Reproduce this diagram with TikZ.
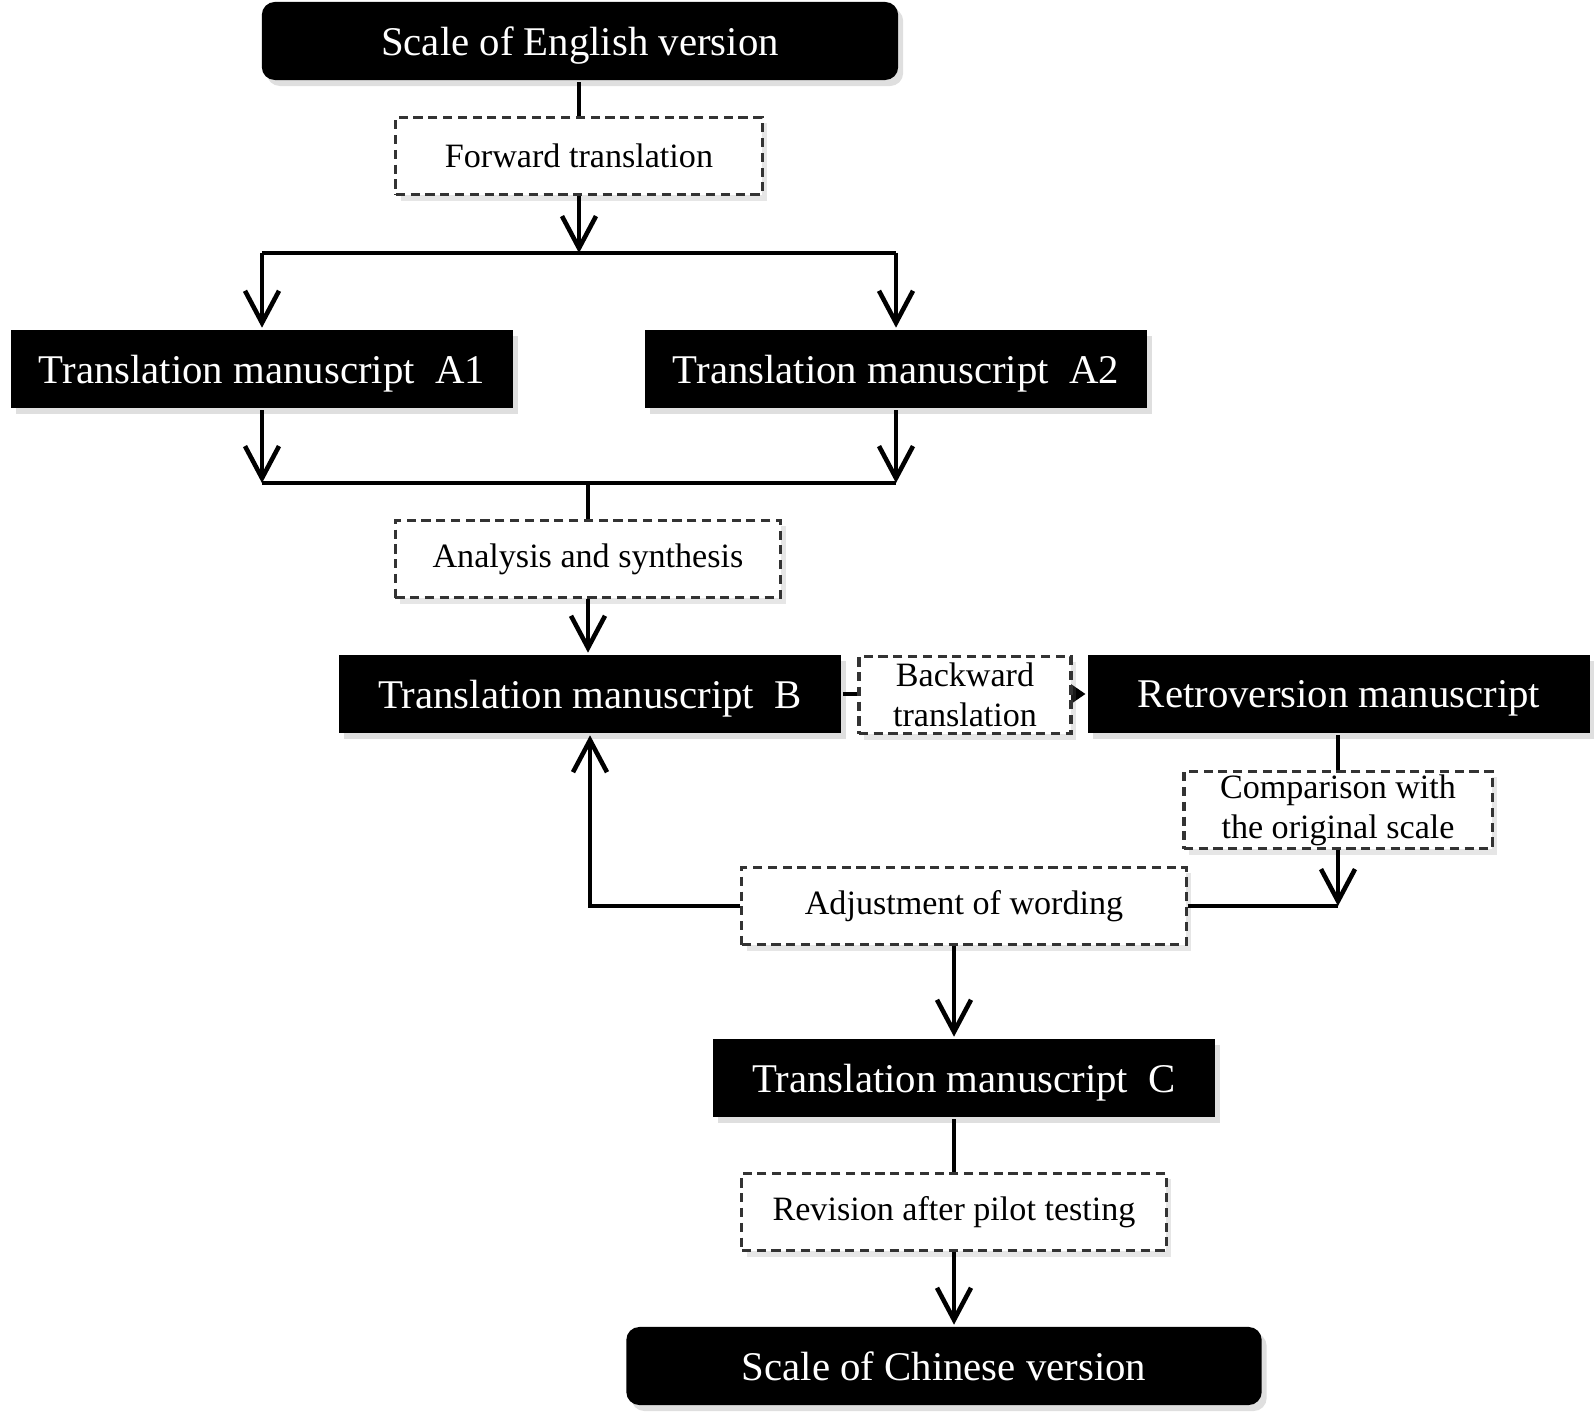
\documentclass[tikz,border=0pt]{standalone}
\usepackage{fontspec}
\setmainfont{Liberation Serif}
\usetikzlibrary{arrows.meta,shadows}

\begin{document}
\begin{tikzpicture}[
    x=0.01cm, y=-0.01cm,
    line width=1.3pt,
    >={Straight Barb[length=3.2mm,width=3.4mm]},
    stage/.style={fill=black, text=white, inner sep=0pt,
        minimum width=5.01cm, minimum height=0.78cm, text depth=0pt,
        font=\fontsize{11.6}{13}\selectfont,
        drop shadow={opacity=0.25, shadow xshift=0.5mm, shadow yshift=-0.6mm}},
    ends/.style={stage, rounded corners=1.3mm, minimum width=6.36cm},
    process/.style={draw=black!80, fill=white, line width=0.9pt,
        dash pattern=on 2.6pt off 1.6pt, inner sep=0pt,
        minimum height=0.77cm, align=center,
        font=\fontsize{9.7}{11.3}\selectfont,
        drop shadow={opacity=0.2, shadow xshift=0.5mm, shadow yshift=-0.6mm}}]

\useasboundingbox (0,0) rectangle (1594,1419);

\node[ends] (eng) at (580,41) {Scale of English version};
\node[process, minimum width=3.66cm] (fwd) at (579,156) {Forward translation};
\node[stage] (a1) at (262,369) {Translation manuscript\ \ A1};
\node[stage] (a2) at (896,369) {Translation manuscript\ \ A2};
\node[process, minimum width=3.85cm] (ana) at (588,559) {Analysis and synthesis};
\node[stage] (tb) at (590,694) {Translation manuscript\ \ B};
\node[stage, minimum width=5.02cm] (ret) at (1339,694) {Retroversion manuscript};
\node[process, minimum width=3.08cm] (cmp) at (1338,810) {Comparison with\\the original scale};
\node[process, minimum width=4.44cm] (adj) at (964,906) {Adjustment of wording};
\node[stage] (tc) at (964,1078) {Translation manuscript\ \ C};
\node[process, minimum width=4.24cm] (rev) at (954,1212) {Revision after pilot testing};
\node[ends, minimum width=6.35cm] (chn) at (944,1366) {Scale of Chinese version};

\coordinate (split) at (579,253);
\coordinate (merge) at (588,483);

\draw (eng.south -| fwd) -- (fwd.north);
\draw[->] (fwd.south) -- (split);
\draw (split -| a1) -- (split -| a2);
\draw[->] (split -| a1) -- (a1.north);
\draw[->] (split -| a2) -- (a2.north);
\draw[->] (a1.south) -- (merge -| a1);
\draw[->] (a2.south) -- (merge -| a2);
\draw (merge -| a1) -- (merge -| a2);
\draw (merge) -- (merge |- ana.north);
\draw[->] (ana.south) -- (ana.south |- tb.north);
\draw[-{Triangle[length=2mm,width=2.6mm]}] (tb.east) -- (ret.west);
\node[process, minimum width=2.12cm] (bwd) at (965,695) {Backward\\translation};
\draw (ret.south -| cmp) -- (cmp.north);
\draw[->] (cmp.south) -- (adj.east -| cmp);
\draw (adj.east) -- (adj.east -| cmp);
\draw[->] (adj.west) -| (tb.south);
\draw[->] (adj.south -| rev) -- (tc.north -| rev);
\draw (tc.south -| rev) -- (rev.north);
\draw[->] (rev.south) -- (rev.south |- chn.north);

\end{tikzpicture}
\end{document}
